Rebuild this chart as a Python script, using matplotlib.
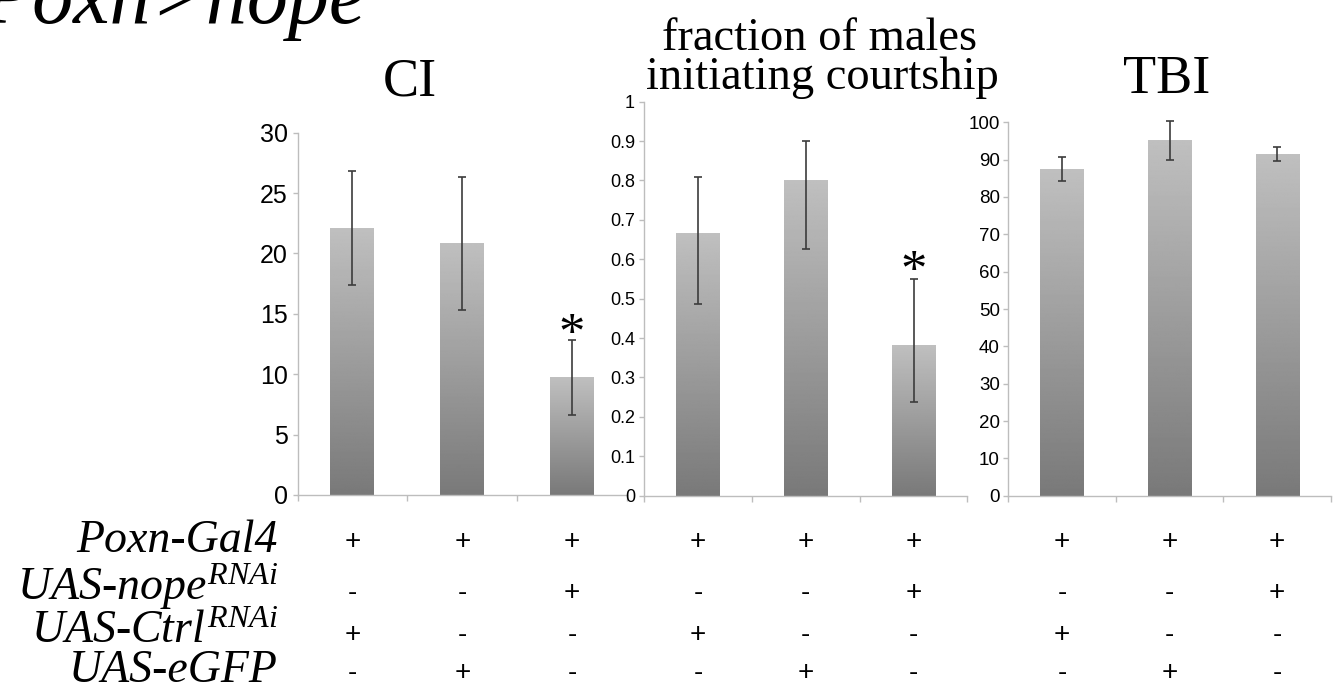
import numpy as np
import matplotlib
matplotlib.use("Agg")
import matplotlib.pyplot as plt
import matplotlib.transforms as mtransforms

plt.rcParams['mathtext.fontset'] = 'custom'
plt.rcParams['mathtext.it'] = 'Liberation Serif:italic'
plt.rcParams['mathtext.rm'] = 'Liberation Serif'
plt.rcParams['mathtext.bf'] = 'Liberation Serif:bold'
plt.rcParams['font.family'] = ['Liberation Sans', 'DejaVu Sans']

# ---------------- data ----------------
groups = ["Ctrl RNAi", "eGFP", "nope RNAi"]

ci_values = [22.1, 20.8, 9.7]
ci_err_low = [4.7, 5.5, 3.1]
ci_err_high = [4.7, 5.5, 3.1]
ci_ticks = [0, 5, 10, 15, 20, 25, 30]

frac_values = [0.665, 0.80, 0.382]
frac_err_low = [0.179, 0.175, 0.143]
frac_err_high = [0.143, 0.10, 0.169]
frac_ticks = [0, 0.1, 0.2, 0.3, 0.4, 0.5, 0.6, 0.7, 0.8, 0.9, 1]
frac_ticklabels = ["0", "0.1", "0.2", "0.3", "0.4", "0.5", "0.6", "0.7", "0.8", "0.9", "1"]

tbi_values = [87.4, 95.2, 91.5]
tbi_err_low = [3.1, 5.3, 1.9]
tbi_err_high = [3.3, 5.1, 2.0]
tbi_ticks = [0, 10, 20, 30, 40, 50, 60, 70, 80, 90, 100]

ci_star = 14.05
frac_star = 0.592

row_labels = ["Poxn-Gal4", "UAS-$nope^{RNAi}$", "UAS-$Ctrl^{RNAi}$", "UAS-eGFP"]
row_signs = [["+", "+", "+"],
             ["-", "-", "+"],
             ["+", "-", "-"],
             ["-", "+", "-"]]

main_title = "Poxn>nope"
panel_titles = ["CI", "fraction of males\ninitiating courtship", "TBI"]

# ---------------- layout ----------------
W, H, DPI = 1337, 694, 100
fig = plt.figure(figsize=(W / DPI, H / DPI), dpi=DPI)
fig.patch.set_facecolor("white")


def fx(px):
    return px / W


def fy(py):
    return 1 - py / H


ax_ci = fig.add_axes([fx(297.5), fy(495.0), (627.0 - 297.5) / W, (495.0 - 132.7) / H])
ax_fr = fig.add_axes([fx(644.0), fy(495.7), (967.4 - 644.0) / W, (495.7 - 101.7) / H])
ax_tb = fig.add_axes([fx(1008.2), fy(495.7), (1330.8 - 1008.2) / W, (495.7 - 122.3) / H])

axis_grey = "#bdbdbd"
grad = np.linspace(0.75, 0.475, 256).reshape(-1, 1)


def panel(ax, vals, lo, hi, ticks, ticklabels, ymax, fsize, pad):
    x = np.arange(len(vals))
    bars = ax.bar(x, vals, 0.4, color="none", edgecolor="none", zorder=2)
    for b in bars:
        x0, y0 = b.get_x(), b.get_y()
        ax.imshow(grad, cmap="gray", vmin=0, vmax=1, aspect="auto",
                  extent=[x0, x0 + b.get_width(), y0, y0 + b.get_height()],
                  interpolation="bilinear", zorder=2)
    eb = ax.errorbar(x, vals, yerr=[lo, hi], fmt="none", ecolor="#3c3c3c",
                     elinewidth=1.2, capsize=3.2, capthick=1.2, zorder=3)
    for art in eb.lines[1] + eb.lines[2]:
        art.set_clip_on(False)
    ax.set_xlim(-0.5, len(vals) - 0.5)
    ax.set_ylim(0, ymax)
    ax.set_aspect("auto")
    for s in ["top", "right"]:
        ax.spines[s].set_visible(False)
    for s in ["left", "bottom"]:
        ax.spines[s].set_color(axis_grey)
        ax.spines[s].set_linewidth(1.0)
    ax.set_yticks(ticks)
    ax.set_yticklabels(ticklabels)
    ax.tick_params(axis="y", direction="out", length=3.5, width=1.0, color=axis_grey,
                   labelsize=fsize, pad=pad, labelcolor="black")
    ax.set_xticks(np.arange(-0.5, len(vals), 1.0))
    ax.set_xticklabels([])
    ax.tick_params(axis="x", direction="out", length=4, width=1.0, color=axis_grey)
    ax.set_facecolor("none")


panel(ax_ci, ci_values, ci_err_low, ci_err_high, ci_ticks, [str(t) for t in ci_ticks], 30, 18, 3.5)
panel(ax_fr, frac_values, frac_err_low, frac_err_high, frac_ticks, frac_ticklabels, 1, 13, 3.0)
panel(ax_tb, tbi_values, tbi_err_low, tbi_err_high, tbi_ticks, [str(t) for t in tbi_ticks], 100, 13.5, 2.5)

# asterisks
star_size = 38
for ax, sy in [(ax_ci, ci_star), (ax_fr, frac_star)]:
    ax.annotate("*", xy=(2, sy), xytext=(0, -0.44 * star_size), textcoords="offset points",
                ha="center", va="baseline", fontsize=star_size, family="Liberation Serif",
                annotation_clip=False)

# titles
serif = "Liberation Serif"
fig.text(fx(-18), fy(23), main_title, fontsize=59, family=serif, style="italic",
         ha="left", va="baseline")
fig.text(fx(409.7), fy(96), panel_titles[0], fontsize=39, family=serif, ha="center", va="baseline")
fig.text(fx(1167), fy(93), panel_titles[2], fontsize=39, family=serif, ha="center", va="baseline")
l1, l2 = panel_titles[1].split("\n")
fig.text(fx(819), fy(50), l1, fontsize=33.5, family=serif, ha="center", va="baseline")
fig.text(fx(822), fy(89), l2, fontsize=33.5, family=serif, ha="center", va="baseline")

# genotype table
label_baselines = [552, 600, 643, 682]
sign_centers = [542, 593, 635, 673]
for lab, yb in zip(row_labels, label_baselines):
    fig.text(fx(278), fy(yb), lab, fontsize=33, family=serif, style="italic",
             ha="right", va="baseline")
for ax in [ax_ci, ax_fr, ax_tb]:
    trans = mtransforms.blended_transform_factory(ax.transData, fig.transFigure)
    for signs, yc in zip(row_signs, sign_centers):
        for i, s in enumerate(signs):
            ax.text(i, fy(yc), s, transform=trans, fontsize=20, ha="center", va="center",
                    family="Liberation Sans", clip_on=False)

fig.savefig("out.png", dpi=DPI, facecolor="white")
